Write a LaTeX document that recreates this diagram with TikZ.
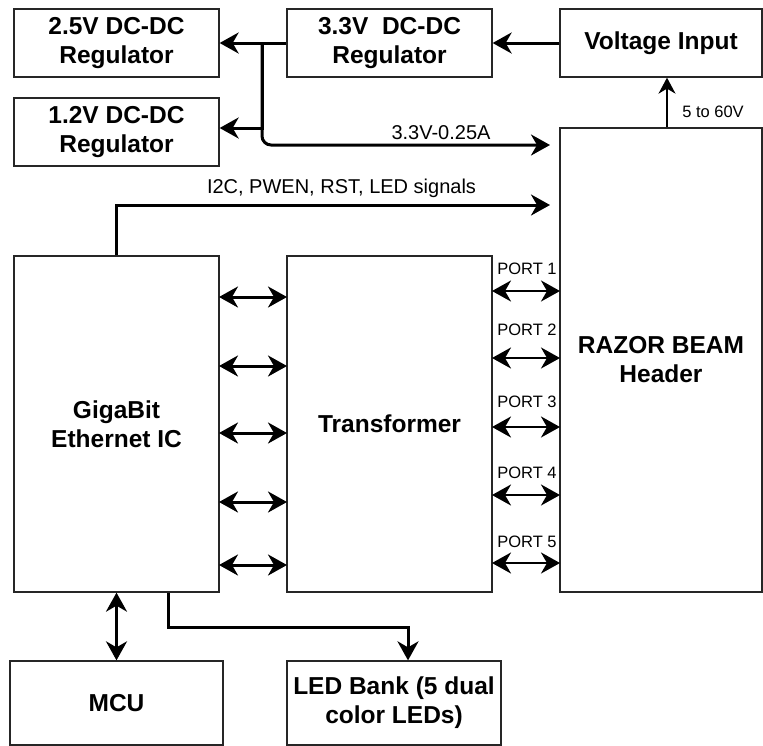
\documentclass[tikz,border=0pt]{standalone}
\usepackage{fontspec}
\setmainfont{Liberation Sans}
\usetikzlibrary{arrows.meta}
\tikzset{
  >={Stealth[length=19pt,width=21pt,inset=6pt]},
  blk/.style={draw=black!85, line width=1.3pt, inner sep=0pt, align=center,
    font=\bfseries\fontsize{24.5}{29}\selectfont},
  thickline/.style={line width=3pt},
  portline/.style={line width=2.5pt, <->},
  thinline/.style={line width=1.5pt, >={Stealth[length=16pt,width=17pt,inset=5pt]}},
  lbl/.style={inner sep=0pt, font=\fontsize{20}{24}\selectfont},
  smalllbl/.style={inner sep=0pt, font=\fontsize{16.5}{20}\selectfont},
}
\begin{document}
\begin{tikzpicture}[x=1pt,y=-1pt]
\useasboundingbox (0,0) rectangle (763,745);
% boxes
\node[blk, minimum width=205, minimum height=68] (reg25) at (116.5,43) {2.5V DC-DC\\Regulator};
\node[blk, minimum width=205, minimum height=68] (reg12) at (116.5,132) {1.2V DC-DC\\Regulator};
\node[blk, minimum width=205, minimum height=68] (reg33) at (389.5,43) {3.3V\ \ DC-DC\\Regulator};
\node[blk, minimum width=202, minimum height=68] (vin) at (661,43) {Voltage Input};
\node[blk, minimum width=202, minimum height=464] (razor) at (661,360) {RAZOR BEAM\\Header};
\node[blk, minimum width=205, minimum height=336] (giga) at (116.5,424) {GigaBit\\Ethernet IC};
\node[blk, minimum width=205, minimum height=336] (trans) at (389.5,424) {Transformer};
\node[blk, minimum width=213, minimum height=84] (mcu) at (116.5,703) {MCU};
\node[blk, minimum width=214, minimum height=84] (led) at (394,703) {LED Bank (5 dual\\color LEDs)};
% coordinates
\coordinate (j) at (262,43);
\coordinate (p1) at (550,145);
\coordinate (p2) at (550,205);
% power connectors
\draw[thickline,->] (vin.west) -- (reg33.east);
\draw[thickline,->] (reg33.west) -- (reg25.east);
\draw[thickline,->] (j) |- ([yshift=4pt]reg12.east);
\draw[thickline,->,rounded corners=9pt] (j) |- (p1);
\node[lbl] (l33) at (441,133) {3.3V-0.25A};
\draw[thickline,->] (giga.north) |- (p2);
\node[lbl] (li2c) at (341.5,188) {I2C, PWEN, RST, LED signals};
\draw[thinline,->] ([xshift=6pt]razor.north) -- ([xshift=6pt]vin.south);
\node[smalllbl] (l560) at (713,112) {5 to 60V};
% giga <-> transformer
\foreach \yy/\nm in {297/a,366/b,433/c,502/d,565/e}{
  \coordinate (gl\nm) at (219,\yy);
  \coordinate (tl\nm) at (287,\yy);
  \draw[thickline,<->] (gl\nm) -- (tl\nm);
}
% transformer <-> razor ports
\foreach \yy/\ly/\k in {291/269/1,358/330/2,427/402/3,495/473/4,563/542/5}{
  \coordinate (tr\k) at (492,\yy);
  \coordinate (rz\k) at (560,\yy);
  \draw[portline] (tr\k) -- (rz\k);
  \node[smalllbl] (port\k) at (527,\ly) {PORT \k};
}
% bottom
\draw[thickline,<->] (giga.south) -- (mcu.north);
\draw[thickline,->] ([xshift=51.5pt]giga.south) -- ++(0,35) -| ([xshift=14pt]led.north);
\end{tikzpicture}
\end{document}
